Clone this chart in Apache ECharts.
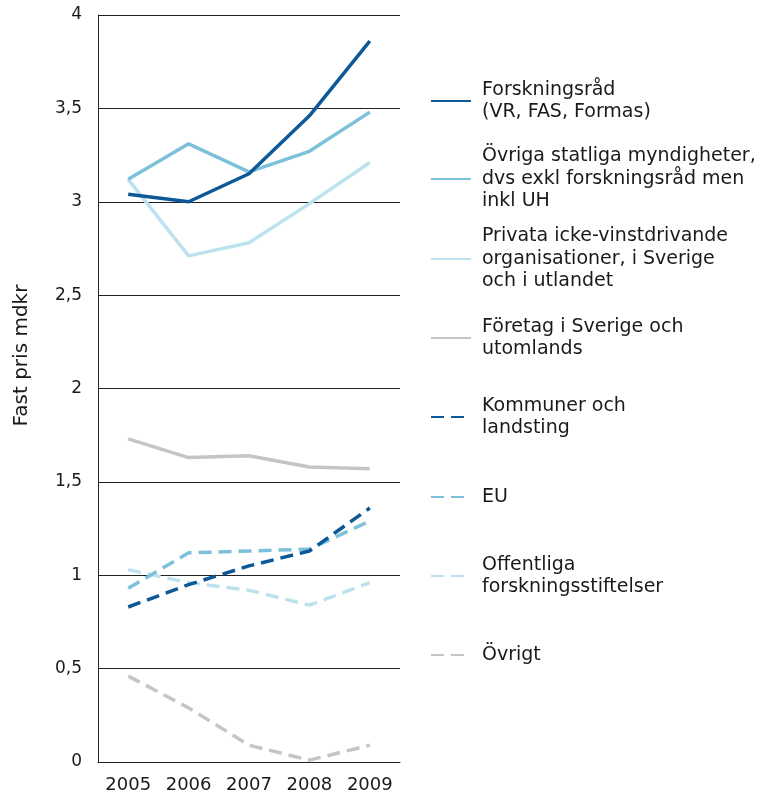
<!DOCTYPE html>
<html>
<head>
<meta charset="utf-8">
<script src="https://cdn.jsdelivr.net/npm/echarts@6/dist/echarts.min.js"></script>
<style>
html,body{margin:0;padding:0;background:#fff;}
#chart{width:763px;height:799px;}
</style>
</head>
<body>
<div id="chart"></div>
<script>
const years = ['2005', '2006', '2007', '2008', '2009'];
const yTicks = [0, 0.5, 1, 1.5, 2, 2.5, 3, 3.5, 4];

const forskningsrad = [3.04, 3.00, 3.15, 3.46, 3.86];
const ovrigaStatliga = [3.12, 3.31, 3.16, 3.27, 3.48];
const privata = [3.12, 2.71, 2.78, 2.99, 3.21];
const foretag = [1.73, 1.63, 1.64, 1.58, 1.57];
const kommuner = [0.83, 0.95, 1.05, 1.13, 1.36];
const eu = [0.93, 1.12, 1.13, 1.14, 1.29];
const offentliga = [1.03, 0.96, 0.92, 0.84, 0.96];
const ovrigt = [0.46, 0.29, 0.09, 0.01, 0.09];

const names = [
  'Forskningsråd\n(VR, FAS, Formas)',
  'Övriga statliga myndigheter,\ndvs exkl forskningsråd men\ninkl UH',
  'Privata icke-vinstdrivande\norganisationer, i Sverige\noch i utlandet',
  'Företag i Sverige och\nutomlands',
  'Kommuner och\nlandsting',
  'EU',
  'Offentliga\nforskningsstiftelser',
  'Övrigt'
];
const seriesData = [forskningsrad, ovrigaStatliga, privata, foretag, kommuner, eu, offentliga, ovrigt];
const colors = ['#0d5897', '#7cc0da', '#bce2ee', '#c5c5c5', '#0d5897', '#7cc0da', '#bce2ee', '#c5c5c5'];
const dashed = [false, false, false, false, true, true, true, true];
const zOrder = [8, 7, 6, 5, 4, 3, 2, 1];

const FONT = '"DejaVu Sans", sans-serif';
const LH = 22.5;
const iconY = [101, 179, 259, 338, 417, 497, 576, 655];

const series = names.map((n, i) => ({
  name: n,
  type: 'line',
  data: seriesData[i],
  symbol: 'none',
  z: zOrder[i],
  lineStyle: {
    color: colors[i],
    width: 3.5,
    type: dashed[i] ? [13, 7] : 'solid',
    cap: 'butt'
  },
  itemStyle: { color: colors[i] },
  emphasis: { disabled: true },
  animation: false
}));

const legends = names.map((n, i) => {
  const lines = n.split('\n').length;
  return {
    left: 430,
    top: iconY[i] - (2 * lines - 1) * LH / 2,
    orient: 'vertical',
    padding: 0,
    itemWidth: 40,
    itemHeight: 4,
    selectedMode: false,
    itemStyle: { opacity: 0, borderWidth: 0 },
    data: [n],
    textStyle: {
      fontFamily: FONT,
      fontSize: 19,
      lineHeight: LH,
      color: '#1a1a1a',
      padding: [(lines - 1) * LH, 0, 0, 6]
    }
  };
});

const chart = echarts.init(document.getElementById('chart'), null, { renderer: 'canvas' });
chart.setOption({
  animation: false,
  color: colors,
  grid: { left: 98, right: 363, top: 15, bottom: 37, containLabel: false },
  legend: legends,
  xAxis: {
    type: 'category',
    data: years,
    boundaryGap: true,
    axisLine: { show: true, lineStyle: { color: '#222', width: 1 } },
    axisTick: { show: false },
    axisLabel: { interval: 0, hideOverlap: false, fontFamily: FONT, fontSize: 18, color: '#1a1a1a', margin: 14 }
  },
  yAxis: {
    type: 'value',
    min: yTicks[0],
    max: yTicks[yTicks.length - 1],
    interval: yTicks[1] - yTicks[0],
    name: 'Fast pris mdkr',
    nameLocation: 'middle',
    nameRotate: 90,
    nameGap: 66,
    nameTextStyle: { fontFamily: FONT, fontSize: 20, color: '#1a1a1a', padding: [0, 0, 0, 66] },
    axisLine: { show: true, lineStyle: { color: '#222', width: 1 } },
    axisTick: { show: false },
    splitLine: { show: true, lineStyle: { color: '#222', width: 1 } },
    axisLabel: {
      fontFamily: FONT, fontSize: 17, color: '#1a1a1a', margin: 16,
      formatter: v => String(v).replace('.', ',')
    }
  },
  series: series
});
</script>
</body>
</html>
